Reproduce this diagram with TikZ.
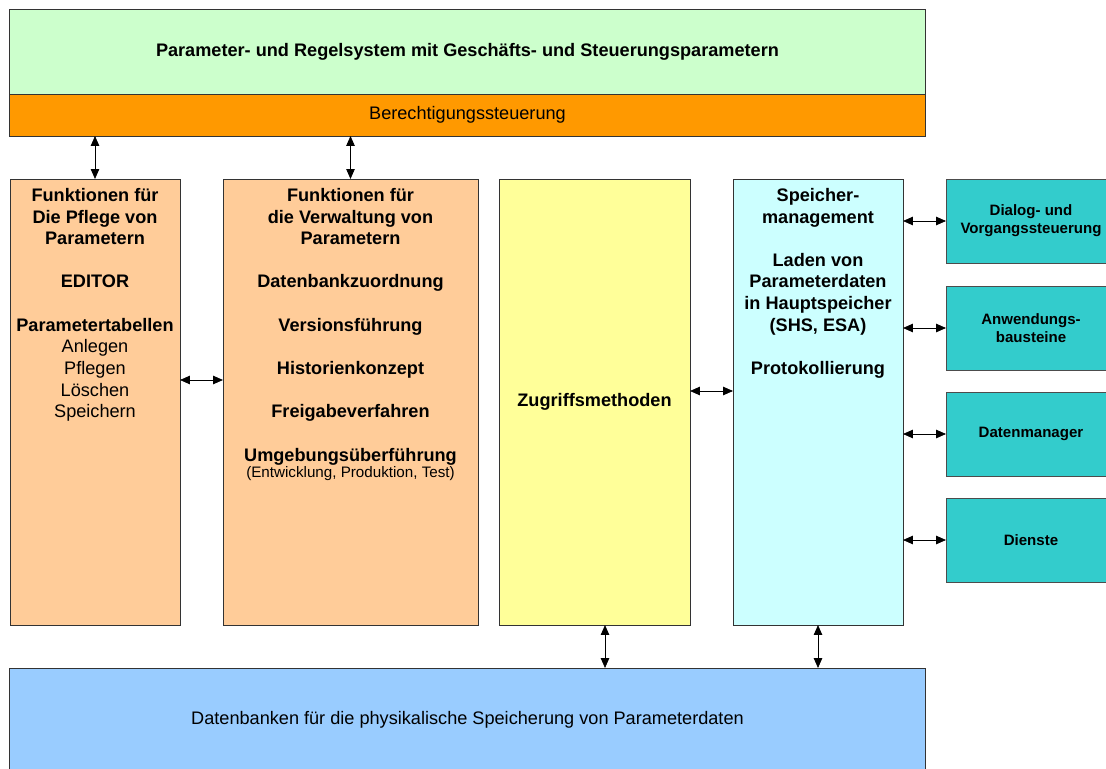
\documentclass[tikz,border=0pt]{standalone}
\usepackage{fontspec}
\setmainfont{Liberation Sans}
\usetikzlibrary{arrows.meta,positioning,calc}
\definecolor{paramgreen}{HTML}{CCFFCC}
\definecolor{rightsorange}{HTML}{FF9900}
\definecolor{funcpeach}{HTML}{FFCC99}
\definecolor{accessyellow}{HTML}{FFFF99}
\definecolor{memcyan}{HTML}{CCFFFF}
\definecolor{serviceteal}{HTML}{33CCCC}
\definecolor{dbblue}{HTML}{99CCFF}

\begin{document}
\begin{tikzpicture}[x=0.025cm, y=-0.025cm, >={Triangle[length=7pt,width=6pt]},
  box/.style={draw=black!80, line width=0.6pt, inner sep=0pt, outer sep=0pt},
  txt/.style={align=center, inner sep=0pt, font=\fontsize{12.9}{15.4}\selectfont\bfseries},
  dbl/.style={<->, line width=0.5pt, black}]
  %% Page frame (pixels of the original)
  \clip (0,0) rectangle (1106,769);

  %% Top band
  \node[box, fill=paramgreen, minimum width=22.875cm, minimum height=2.125cm,
        font=\fontsize{12.9}{15.4}\selectfont\bfseries] (regeln) at (467.5,51.5)
    {Parameter- und Regelsystem mit Geschäfts- und Steuerungsparametern};
  \node[box, fill=rightsorange, minimum width=22.875cm, minimum height=1.05cm,
        font=\fontsize{12.9}{15.4}\selectfont] (recht) at (467.5,115)
    {Berechtigungssteuerung};

  %% Function columns
  \node[box, fill=funcpeach, minimum width=4.25cm, minimum height=11.15cm] (pflege) at (95,402) {};
  \node[box, fill=funcpeach, minimum width=6.375cm, minimum height=11.15cm] (verwaltung) at (350.5,402) {};
  \node[box, fill=accessyellow, minimum width=4.775cm, minimum height=11.15cm,
        font=\fontsize{12.9}{15.4}\selectfont\bfseries] (zugriff) at (594.5,402) {Zugriffsmethoden};
  \node[box, fill=memcyan, minimum width=4.25cm, minimum height=11.15cm] (speicher) at (818,402) {};

  \node[txt, anchor=north] (pflegetxt) at ([yshift=-0.225cm]pflege.north)
    {Funktionen für\\Die Pflege von\\Parametern\\[15.4pt]EDITOR\\[15.4pt]Parametertabellen\\
     {\mdseries Anlegen}\\{\mdseries Pflegen}\\{\mdseries Löschen}\\{\mdseries Speichern}};
  \node[txt, anchor=north] (verwaltungtxt) at ([yshift=-0.225cm]verwaltung.north)
    {Funktionen für\\die Verwaltung von\\Parametern\\[15.4pt]Datenbankzuordnung\\[15.4pt]Versionsführung\\[15.4pt]
     Historienkonzept\\[15.4pt]Freigabeverfahren\\[15.4pt]Umgebungsüberführung};
  \node[inner sep=0pt, font=\fontsize{10.8}{12}\selectfont] (umgnote) at (350.5,474)
    {(Entwicklung, Produktion, Test)};
  \node[txt, anchor=north] (speichertxt) at ([yshift=-0.225cm]speicher.north)
    {Speicher-\\management\\[15.4pt]Laden von\\Parameterdaten\\in Hauptspeicher\\(SHS, ESA)\\[15.4pt]Protokollierung};

  %% Services on the right
  \foreach \name/\y/\lbl in {dialog/221/{Dialog- und\\Vorgangssteuerung},
                            bausteine/328/{Anwendungs-\\bausteine},
                            datenmgr/434/{Datenmanager},
                            dienste/540/{Dienste}}{
    \node[box, fill=serviceteal, draw=black!70, minimum width=4.25cm, minimum height=2.1cm,
          align=center, font=\fontsize{10.7}{12.8}\selectfont\bfseries] (\name) at (1031,\y) {\lbl};
  }

  %% Database band
  \node[box, fill=dbblue, minimum width=22.875cm, minimum height=3cm] (db) at (467.5,728) {};
  \node[inner sep=0pt, font=\fontsize{12.9}{15.4}\selectfont] (dbtxt) at (467.5,720)
    {Datenbanken für die physikalische Speicherung von Parameterdaten};

  %% Connectors
  \draw[dbl] (recht.south -| pflege.north) -- (pflege.north);
  \draw[dbl] (recht.south -| verwaltung.north) -- (verwaltung.north);
  \draw[dbl] ([yshift=0.55cm]pflege.east) -- ([yshift=0.55cm]pflege.east -| verwaltung.west);
  \draw[dbl] ([yshift=0.275cm]zugriff.east) -- ([yshift=0.275cm]zugriff.east -| speicher.west);
  \foreach \name in {dialog,bausteine,datenmgr,dienste}
    \draw[dbl] (speicher.east |- \name.west) -- (\name.west);
  \draw[dbl] ([xshift=0.2625cm]zugriff.south) -- ([xshift=0.2625cm]zugriff.south |- db.north);
  \draw[dbl] (speicher.south) -- (db.north -| speicher.south);
\end{tikzpicture}
\end{document}
